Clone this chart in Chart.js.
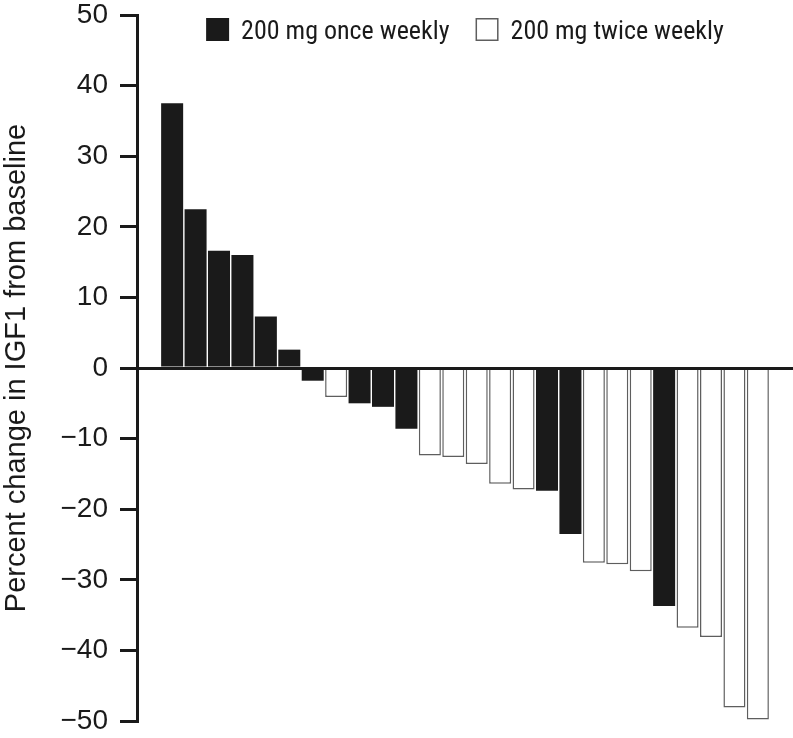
<!DOCTYPE html>
<html>
<head>
<meta charset="utf-8">
<title>IGF1 change from baseline</title>
<script src="https://cdn.jsdelivr.net/npm/chart.js@4.4.0/dist/chart.umd.min.js"></script>
<style>
    html, body { margin: 0; padding: 0; background: #fff; }
    canvas { display: block; }
</style>
</head>
<body>
<canvas id="igfChart" width="793" height="738"></canvas>
<script>
// Patients, sorted by response
const patients = [1, 2, 3, 4, 5, 6, 7, 8, 9, 10, 11, 12, 13, 14, 15, 16, 17, 18, 19, 20, 21, 22, 23, 24, 25, 26];
const percentChange = [37.5, 22.5, 16.6, 16.0, 7.3, 2.6, -1.8, -4.1, -5.0, -5.5, -8.6, -12.4, -12.6,
    -13.6, -16.4, -17.2, -17.4, -23.5, -27.6, -27.8, -28.8, -33.7, -36.8, -38.1, -48.1, -49.8];
const regimen = ['once', 'once', 'once', 'once', 'once', 'once', 'once', 'twice', 'once', 'once', 'once',
    'twice', 'twice', 'twice', 'twice', 'twice', 'once', 'once', 'twice', 'twice', 'twice', 'once',
    'twice', 'twice', 'twice', 'twice'];
const yTicks = [-50, -40, -30, -20, -10, 0, 10, 20, 30, 40, 50];

const fontFamily = "'Liberation Sans', Arial, sans-serif";
const legendFont = "'Roboto Condensed', 'Liberation Sans Narrow', 'DejaVu Sans Condensed', sans-serif";
const ink = '#1a1a1a';

function seriesFor(group) {
    return patients.map((p, i) => ({ x: p, y: regimen[i] === group ? percentChange[i] : null }));
}

// Legend drawn inside the plot area, centred at the top
const insideLegend = {
    id: 'insideLegend',
    afterDraw(chart) {
        const ctx = chart.ctx;
        const area = chart.chartArea;
        const box = 23, gap = 12, spacing = 26;
        ctx.save();
        ctx.font = '26px ' + legendFont;
        const items = chart.data.datasets.map(ds => ({
            ds: ds,
            w: box + gap + ctx.measureText(ds.label).width
        }));
        const total = items.reduce((s, it) => s + it.w, 0) + spacing * (items.length - 1);
        let x = (area.left + area.right) / 2 - total / 2;
        const y = area.top + 3;
        items.forEach(it => {
            ctx.fillStyle = it.ds.backgroundColor;
            ctx.fillRect(x, y, box, box);
            if (it.ds.borderWidth) {
                ctx.lineWidth = it.ds.borderWidth;
                ctx.strokeStyle = it.ds.borderColor;
                ctx.strokeRect(x + 0.75, y + 0.75, box - 1.5, box - 1.5);
            }
            ctx.fillStyle = ink;
            ctx.textBaseline = 'alphabetic';
            ctx.fillText(it.ds.label, x + box + gap, y + 21);
            x += it.w + spacing;
        });
        ctx.restore();
    }
};

const ctx = document.getElementById('igfChart');
new Chart(ctx, {
    type: 'bar',
    data: {
        datasets: [{
            label: '200 mg once weekly',
            data: seriesFor('once'),
            backgroundColor: ink,
            borderWidth: 0,
            barPercentage: 0.94,
            categoryPercentage: 1
        }, {
            label: '200 mg twice weekly',
            data: seriesFor('twice'),
            backgroundColor: '#ffffff',
            borderColor: '#5e5e5e',
            borderWidth: 1.5,
            barPercentage: 0.94,
            categoryPercentage: 1
        }]
    },
    options: {
        responsive: false,
        animation: false,
        layout: { padding: { top: 15, right: 0, bottom: 17, left: 0 } },
        plugins: {
            legend: { display: false },
            tooltip: { enabled: false }
        },
        scales: {
            x: {
                type: 'linear',
                display: false,
                stacked: true,
                offset: false,
                min: -0.5,
                max: 27.5
            },
            y: {
                stacked: true,
                min: -50,
                max: 50,
                afterFit: function(scale) {
                    scale.width = 137;
                    scale.paddingTop = 0;
                    scale.paddingBottom = 0;
                },
                afterBuildTicks: function(scale) {
                    scale.ticks = yTicks.map(v => ({ value: v }));
                },
                border: { color: ink, width: 3, z: 2 },
                grid: {
                    z: 1,
                    color: c => c.tick && c.tick.value === 0 ? ink : 'rgba(0,0,0,0)',
                    lineWidth: 3,
                    drawTicks: true,
                    tickLength: 17,
                    tickColor: ink,
                    tickWidth: 3
                },
                ticks: {
                    color: ink,
                    padding: 12,
                    font: { family: fontFamily, size: 28 },
                    callback: v => v < 0 ? '\u2212' + Math.abs(v) : String(v)
                },
                title: {
                    display: true,
                    text: 'Percent change in IGF1 from baseline',
                    color: ink,
                    padding: 0,
                    font: { family: fontFamily, size: 29 }
                }
            }
        }
    },
    plugins: [insideLegend]
});
</script>
</body>
</html>
